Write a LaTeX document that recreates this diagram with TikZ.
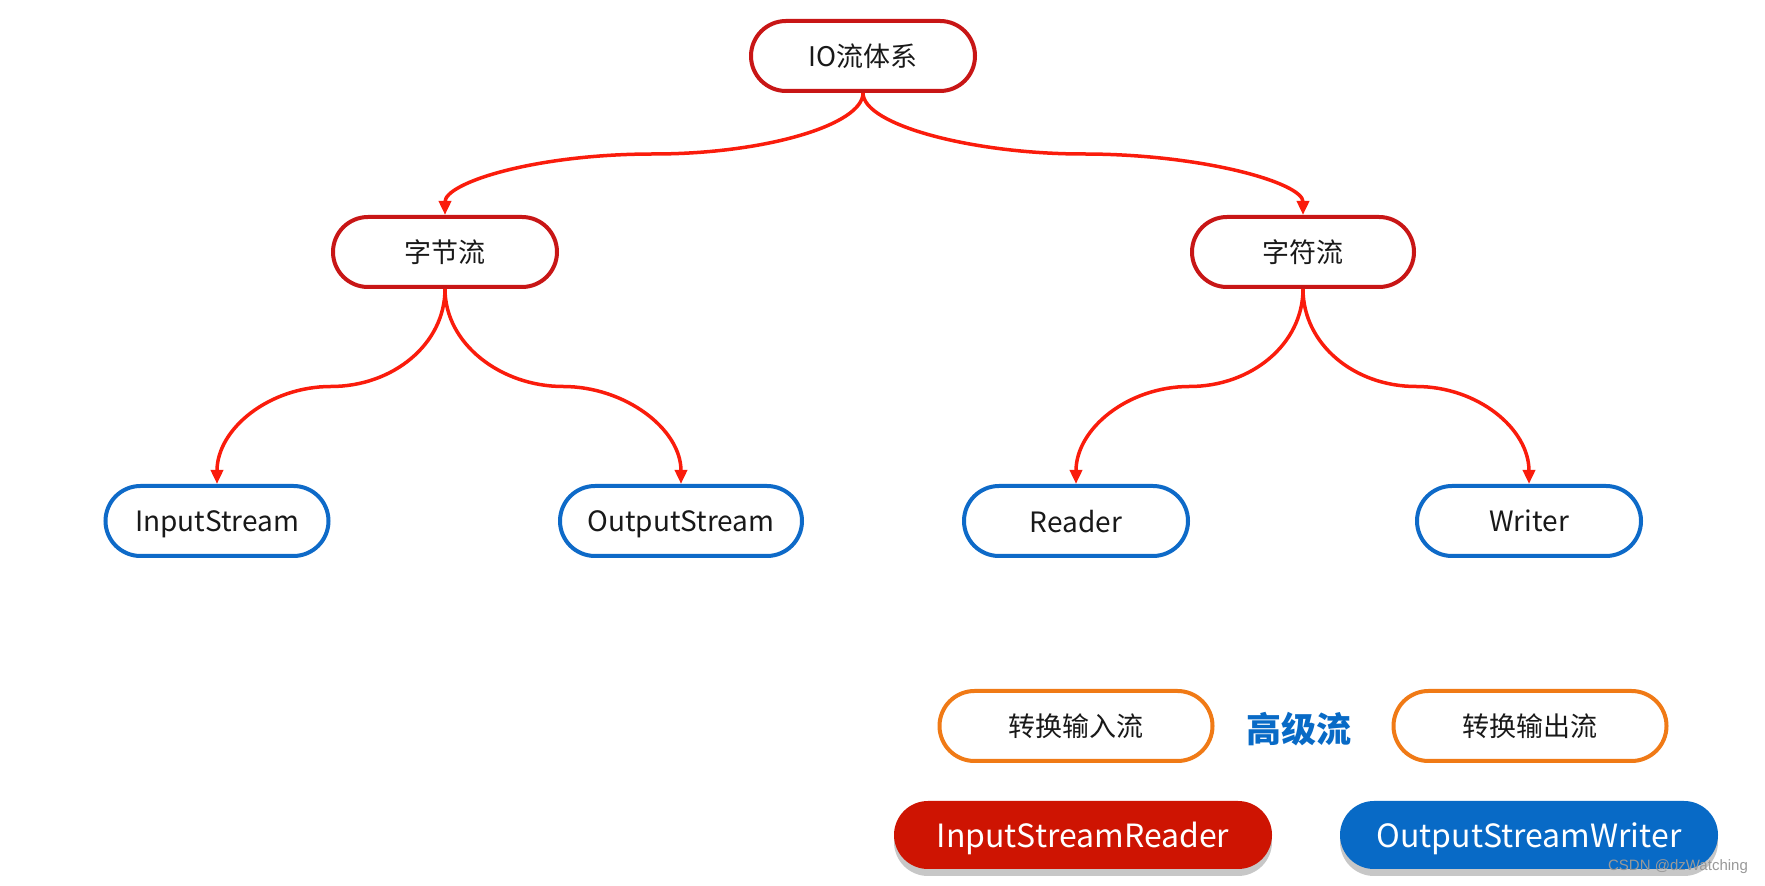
\documentclass[tikz,border=0pt]{standalone}
\usepackage{fontspec}
\setmainfont{Noto Sans CJK SC}
\newfontfamily\wmfont{Liberation Sans}
\usetikzlibrary{arrows.meta,calc,shadows}
\definecolor{boxred}{RGB}{200,22,22}
\definecolor{linered}{RGB}{250,28,12}
\definecolor{boxblue}{RGB}{14,106,200}
\definecolor{boxorange}{RGB}{240,122,22}
\definecolor{fillred}{RGB}{206,20,2}
\definecolor{fillblue}{RGB}{8,106,198}
\definecolor{txt}{RGB}{25,25,25}
\tikzset{
  pill/.style={draw, line width=4pt, rounded corners=35pt, minimum height=70pt,
    minimum width=224pt, inner sep=0pt, fill=white, text=txt,
    font=\fontsize{27}{30}\selectfont},
  latin/.style={text depth=0pt, font=\fontsize{28}{31}\selectfont},
  redpill/.style={pill, draw=boxred},
  bluepill/.style={pill, draw=boxblue, latin},
  orangepill/.style={pill, draw=boxorange, minimum width=273pt},
  solidpill/.style={rounded corners=34pt, minimum height=68pt, minimum width=378pt,
    inner sep=0pt, text=white, text depth=0pt, font=\fontsize{32}{35}\selectfont,
    drop shadow={shadow xshift=0pt, shadow yshift=-7pt, opacity=0.22, fill=black}},
  conn/.style={draw=linered, line width=3.5pt, -{Triangle[length=14pt,width=12pt]}},
}
\begin{document}
\begin{tikzpicture}[x=1pt,y=1pt]
\useasboundingbox (0,0) rectangle (1765,886);
\fill[white] (0,0) rectangle (1765,886);

\node[redpill] (io) at (863,830) {IO流体系};
\node[redpill] (byte) at (445,634) {字节流};
\node[redpill, minimum width=222pt] (char) at (1303,634) {字符流};

\node[bluepill, minimum width=223pt] (ins) at (217,365) {InputStream};
\node[bluepill, minimum width=242pt] (outs) at (681,365) {OutputStream};
\node[bluepill] (reader) at (1076,365) {Reader};
\node[bluepill] (writer) at (1529,365) {Writer};

\node[orangepill] (cin) at (1076,160) {转换输入流};
\node[text=fillblue, font=\fontsize{35}{38}\selectfont\bfseries] (gj) at (1299,157) {高级流};
\node[orangepill] (cout) at (1530,160) {转换输出流};

\node[solidpill, fill=fillred] (isr) at (1083,51) {InputStreamReader};
\node[solidpill, fill=fillblue] (osw) at (1529,51) {OutputStreamWriter};

\node[text=gray!80, font=\wmfont\fontsize{15}{17}\selectfont] (wm) at (1678,19) {CSDN @dzWatching};

% mid points
\coordinate (m1) at ($(io.south)!0.5!(byte.north)$);
\coordinate (m2) at ($(io.south)!0.5!(char.north)$);
\coordinate (m3) at ($(byte.south)!0.5!(ins.north)$);
\coordinate (m4) at ($(byte.south)!0.5!(outs.north)$);
\coordinate (m5) at ($(char.south)!0.5!(reader.north)$);
\coordinate (m6) at ($(char.south)!0.5!(writer.north)$);

\draw[conn] (io.south) .. controls +(0,-32) and +(110,0) .. (m1)
  .. controls +(-120,0) and +(0,32) .. (byte.north);
\draw[conn] (io.south) .. controls +(0,-32) and +(-110,0) .. (m2)
  .. controls +(120,0) and +(0,32) .. (char.north);

\draw[conn] (byte.south) .. controls +(0,-55) and +(62,0) .. (m3)
  .. controls +(-62,0) and +(0,55) .. (ins.north);
\draw[conn] (byte.south) .. controls +(0,-55) and +(-62,0) .. (m4)
  .. controls +(62,0) and +(0,55) .. (outs.north);
\draw[conn] (char.south) .. controls +(0,-55) and +(62,0) .. (m5)
  .. controls +(-62,0) and +(0,55) .. (reader.north);
\draw[conn] (char.south) .. controls +(0,-55) and +(-62,0) .. (m6)
  .. controls +(62,0) and +(0,55) .. (writer.north);
\end{tikzpicture}
\end{document}
